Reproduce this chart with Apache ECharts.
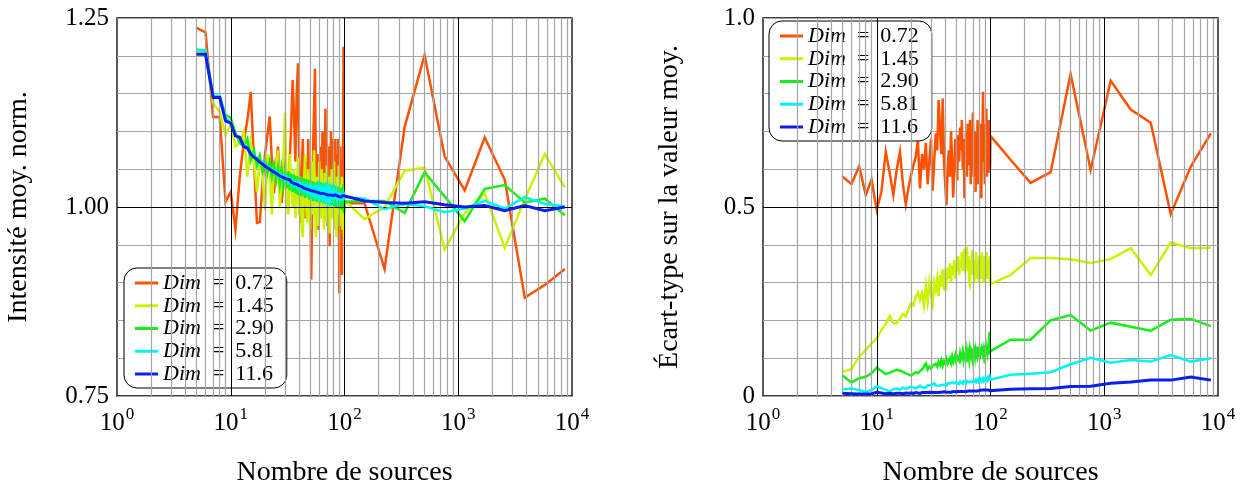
<!DOCTYPE html>
<html><head><meta charset="utf-8">
<script src="https://cdn.jsdelivr.net/npm/echarts@6/dist/echarts.min.js"></script>
<style>html,body{margin:0;padding:0;background:#fff}#c{width:1243px;height:491px}</style>
</head><body><div id="c"></div>
<script>
// ---------- DATA ----------
const nSources = [5,6,7,8,9,10,11,12,13,14,15,16,17,18,19,20,21,22,23,24,25,26,27,28,29,30,31,32,33,34,35,36,37,38,39,40,41,42,43,44,45,46,47,48,49,50,51,52,53,54,55,56,57,58,59,60,61,62,63,64,65,66,67,68,69,70,71,72,73,74,75,76,77,78,79,80,81,82,83,84,85,86,87,88,89,90,91,92,93,94,95,96,97,98,99,100,150,225,338,506,759,1139,1709,2563,3844,5767,8650];
const dimNames = ['0.72','1.45','2.90','5.81','11.6'];

// Left: normalised mean intensity
const intens072 = [1.237,1.231,1.119,1.119,1.007,1.020,0.970,1.040,1.085,1.115,
1.152,1.060,0.979,0.980,1.030,1.070,1.095,1.120,1.060,1.018,
1.050,1.080,1.040,1.005,1.030,1.070,1.030,0.995,1.060,1.110,
1.168,1.120,1.060,1.150,1.190,1.050,0.979,1.040,1.090,1.010,
0.985,1.060,1.020,1.090,0.990,1.030,0.904,1.000,1.080,1.130,
1.183,1.050,0.990,1.070,0.970,1.050,0.985,1.080,1.020,1.100,
1.040,0.990,1.060,1.130,1.010,1.070,0.975,1.040,1.080,0.948,
1.020,1.100,1.050,1.090,0.990,1.040,1.080,1.000,1.090,0.970,
1.050,1.070,1.010,1.090,1.040,0.886,1.020,1.080,0.960,1.050,
0.910,1.060,1.020,1.212,1.005,1.005,
1.005,0.918,1.106,1.201,1.067,1.022,1.092,1.036,0.880,0.897,0.918];
const intens145 = [1.205,1.205,1.137,1.126,1.095,1.110,1.080,1.085,1.100,1.040,
1.085,1.060,1.020,1.060,1.045,0.995,1.070,1.050,0.990,1.060,
1.040,1.075,1.000,1.035,1.060,1.125,1.020,0.990,1.070,1.030,
1.000,1.050,0.985,1.020,1.065,0.990,1.040,0.975,0.960,1.030,
1.070,1.000,0.980,1.050,1.010,0.970,1.060,1.020,0.990,1.075,
1.000,0.960,1.040,1.010,0.975,1.060,1.020,0.985,1.050,0.995,
1.030,0.970,1.045,1.000,0.980,1.055,1.010,0.990,1.040,0.965,
1.030,1.000,1.050,0.985,1.020,0.995,1.060,0.980,1.030,1.005,
0.960,1.040,1.010,0.990,1.055,1.000,0.975,1.030,1.010,0.985,
1.040,0.970,1.020,0.995,0.960,1.009,
0.984,1.000,1.048,1.052,0.944,0.992,1.018,0.946,1.010,1.070,1.026];
const intens290 = [1.208,1.207,1.146,1.146,1.122,1.118,1.098,1.085,1.080,1.090,
1.062,1.075,1.055,1.068,1.048,1.062,1.045,1.060,1.040,1.056,
1.036,1.052,1.030,1.050,1.028,1.046,1.025,1.047,1.022,1.044,
1.020,1.043,1.018,1.041,1.016,1.040,1.014,1.039,1.015,1.038,
1.012,1.037,1.013,1.036,1.010,1.035,1.011,1.034,1.008,1.033,
1.010,1.032,1.007,1.034,1.009,1.031,1.006,1.033,1.008,1.030,
1.005,1.032,1.007,1.029,1.004,1.031,1.006,1.028,1.003,1.030,
1.005,1.027,1.002,1.029,1.004,1.026,1.001,1.028,1.003,1.025,
1.000,1.027,1.002,1.024,0.998,1.026,1.000,1.023,0.997,1.025,
0.999,1.022,0.995,1.030,0.992,1.007,
1.008,1.008,0.992,1.046,1.014,0.981,1.024,1.029,1.006,1.011,0.989];
const intens581 = [1.207,1.207,1.147,1.147,1.118,1.112,1.095,1.093,1.083,1.079,
1.073,1.066,1.065,1.058,1.060,1.053,1.055,1.049,1.051,1.045,
1.048,1.041,1.044,1.038,1.042,1.036,1.040,1.033,1.037,1.030,
1.035,1.028,1.033,1.027,1.032,1.025,1.030,1.024,1.029,1.022,
1.028,1.021,1.027,1.020,1.026,1.019,1.025,1.018,1.024,1.017,
1.024,1.016,1.023,1.017,1.024,1.015,1.023,1.016,1.022,1.014,
1.022,1.015,1.021,1.013,1.022,1.014,1.020,1.013,1.021,1.012,
1.020,1.013,1.019,1.011,1.020,1.012,1.019,1.011,1.020,1.010,
1.018,1.012,1.019,1.009,1.018,1.010,1.018,1.008,1.019,1.010,
1.017,1.008,1.018,1.009,1.016,1.013,
1.011,0.997,1.004,1.001,0.993,0.998,1.008,0.998,1.013,1.004,1.001];
const intens116 = [1.202,1.202,1.145,1.145,1.114,1.111,1.094,1.092,1.080,1.078,
1.070,1.066,1.063,1.059,1.057,1.054,1.052,1.050,1.048,1.046,
1.045,1.043,1.041,1.040,1.039,1.038,1.037,1.035,1.036,1.033,
1.032,1.031,1.030,1.030,1.029,1.028,1.029,1.027,1.026,1.025,
1.025,1.024,1.026,1.023,1.023,1.022,1.022,1.023,1.021,1.021,
1.020,1.020,1.020,1.021,1.019,1.019,1.019,1.018,1.020,1.018,
1.018,1.017,1.017,1.017,1.019,1.017,1.016,1.016,1.016,1.016,
1.016,1.018,1.015,1.015,1.015,1.015,1.015,1.015,1.016,1.014,
1.014,1.014,1.014,1.014,1.016,1.014,1.013,1.013,1.013,1.013,
1.013,1.013,1.015,1.013,1.013,1.013,
1.008,1.006,1.005,1.007,1.003,1.000,1.002,0.995,1.002,0.995,1.000];

// Right: standard deviation over the mean value
const std072 = [0.580,0.561,0.608,0.532,0.572,0.492,0.541,0.646,0.590,0.532,
0.600,0.646,0.560,0.507,0.550,0.584,0.610,0.633,0.677,0.549,
0.640,0.600,0.670,0.560,0.620,0.680,0.543,0.620,0.695,0.650,
0.783,0.700,0.640,0.787,0.620,0.560,0.505,0.600,0.650,0.580,
0.700,0.620,0.525,0.600,0.680,0.640,0.570,0.690,0.620,0.710,
0.650,0.730,0.600,0.680,0.523,0.640,0.700,0.580,0.720,0.610,
0.660,0.730,0.560,0.690,0.620,0.750,0.580,0.660,0.700,0.540,
0.680,0.620,0.730,0.560,0.670,0.600,0.720,0.640,0.523,0.680,
0.700,0.805,0.620,0.690,0.560,0.720,0.600,0.760,0.580,0.700,
0.640,0.590,0.730,0.650,0.600,0.688,
0.625,0.564,0.592,0.852,0.598,0.834,0.758,0.723,0.481,0.607,0.695];
const std145 = [0.064,0.071,0.104,0.122,0.139,0.153,0.175,0.190,0.212,0.192,
0.193,0.205,0.217,0.210,0.230,0.245,0.240,0.262,0.274,0.255,
0.272,0.240,0.290,0.250,0.300,0.270,0.245,0.300,0.280,0.310,
0.265,0.320,0.290,0.335,0.280,0.320,0.300,0.340,0.310,0.351,
0.300,0.345,0.320,0.360,0.310,0.350,0.330,0.370,0.320,0.360,
0.340,0.380,0.330,0.365,0.350,0.390,0.340,0.395,0.330,0.370,
0.300,0.294,0.360,0.340,0.385,0.320,0.360,0.300,0.350,0.330,
0.380,0.310,0.360,0.340,0.300,0.370,0.330,0.350,0.310,0.380,
0.320,0.360,0.300,0.340,0.370,0.320,0.350,0.310,0.380,0.330,
0.360,0.310,0.350,0.330,0.370,0.296,
0.320,0.365,0.365,0.362,0.352,0.362,0.391,0.320,0.406,0.391,0.392];
const std290 = [0.054,0.036,0.047,0.051,0.060,0.075,0.066,0.058,0.062,0.066,
0.069,0.067,0.064,0.060,0.057,0.054,0.058,0.063,0.060,0.066,
0.070,0.073,0.086,0.070,0.078,0.072,0.080,0.076,0.085,0.078,
0.090,0.082,0.095,0.080,0.092,0.085,0.098,0.086,0.094,0.100,
0.088,0.104,0.090,0.098,0.108,0.092,0.104,0.108,0.094,0.112,
0.098,0.106,0.118,0.096,0.110,0.113,0.100,0.120,0.104,0.114,
0.098,0.122,0.108,0.116,0.102,0.126,0.110,0.118,0.104,0.124,
0.126,0.108,0.130,0.112,0.120,0.106,0.128,0.114,0.122,0.108,
0.132,0.116,0.124,0.110,0.086,0.120,0.134,0.112,0.126,0.116,
0.130,0.110,0.124,0.170,0.118,0.122,
0.149,0.149,0.200,0.214,0.173,0.194,0.183,0.173,0.202,0.204,0.185];
const std581 = [0.018,0.020,0.016,0.011,0.016,0.026,0.021,0.016,0.012,0.018,
0.020,0.017,0.022,0.019,0.021,0.025,0.022,0.020,0.024,0.027,
0.023,0.026,0.022,0.028,0.025,0.029,0.026,0.034,0.028,0.030,
0.027,0.032,0.029,0.033,0.030,0.032,0.028,0.034,0.030,0.033,
0.029,0.036,0.031,0.034,0.030,0.036,0.033,0.037,0.032,0.038,
0.034,0.036,0.033,0.039,0.035,0.037,0.034,0.040,0.035,0.038,
0.036,0.041,0.035,0.039,0.037,0.042,0.036,0.040,0.038,0.043,
0.037,0.041,0.039,0.044,0.038,0.042,0.040,0.045,0.039,0.043,
0.041,0.046,0.040,0.044,0.042,0.047,0.041,0.045,0.043,0.048,
0.042,0.046,0.044,0.052,0.043,0.045,
0.056,0.059,0.063,0.084,0.101,0.088,0.095,0.091,0.108,0.091,0.100];
const std116 = [0.007,0.006,0.005,0.005,0.006,0.010,0.008,0.006,0.007,0.006,
0.007,0.007,0.006,0.008,0.007,0.008,0.007,0.009,0.008,0.007,
0.009,0.008,0.009,0.008,0.010,0.009,0.009,0.010,0.009,0.010,
0.009,0.011,0.010,0.009,0.011,0.010,0.010,0.011,0.010,0.012,
0.010,0.011,0.012,0.010,0.011,0.012,0.011,0.012,0.011,0.013,
0.012,0.011,0.013,0.012,0.012,0.013,0.012,0.014,0.012,0.013,
0.012,0.014,0.013,0.012,0.014,0.013,0.013,0.014,0.013,0.015,
0.013,0.014,0.013,0.015,0.014,0.013,0.015,0.014,0.013,0.015,
0.014,0.016,0.014,0.013,0.015,0.014,0.016,0.014,0.015,0.013,
0.016,0.014,0.015,0.017,0.014,0.013,
0.018,0.019,0.020,0.025,0.026,0.034,0.037,0.042,0.042,0.050,0.042];

const leftSeries = [intens072, intens145, intens290, intens581, intens116];
const rightSeries = [std072, std145, std290, std581, std116];

// ---------- STYLE ----------
const FONT = 'Liberation Serif';
const colors = ['#ff5200', '#ccf200', '#14f014', '#00f4f4', '#0a1ef0'];
const GRAY = '#a4a4a4';

const minorX = [];
[1, 10, 100, 1000].forEach(d => { for (let k = 2; k <= 9; k++) minorX.push(k * d); });
const majorX = [10, 100, 1000];

function pairs(vals) { return nSources.map((x, i) => [x, vals[i]]); }

const grids = [
  { left: 117, top: 18, width: 455, height: 378, outerBoundsMode: 'none', containLabel: false, show: true, borderColor: '#000', borderWidth: 1.3, backgroundColor: 'transparent' },
  { left: 763, top: 18, width: 455, height: 378, outerBoundsMode: 'none', containLabel: false, show: true, borderColor: '#000', borderWidth: 1.3, backgroundColor: 'transparent' }
];

function xAxisCfg(gi) {
  return {
    type: 'log', logBase: 10, min: 1, max: 10000, gridIndex: gi,
    axisLine: { show: false }, axisTick: { show: false }, splitLine: { show: false },
    name: 'Nombre de sources', nameLocation: 'middle', nameGap: 63,
    nameTextStyle: { fontFamily: FONT, fontSize: 28, color: '#000' },
    axisLabel: {
      margin: 10, color: '#000',
      formatter: v => '{a|10}{b|' + Math.round(Math.log10(v)) + '}',
      rich: {
        a: { fontFamily: FONT, fontSize: 25, color: '#000', verticalAlign: 'bottom', lineHeight: 30 },
        b: { fontFamily: FONT, fontSize: 17, color: '#000', verticalAlign: 'top', lineHeight: 30, padding: [0, 0, 0, 1] }
      }
    }
  };
}

const yAxes = [
  {
    type: 'value', gridIndex: 0, min: 0.75, max: 1.25, interval: 0.05,
    axisLine: { show: false }, axisTick: { show: false },
    splitLine: { show: true, lineStyle: { color: GRAY, width: 1.2 } },
    name: 'Intensité moy. norm.', nameLocation: 'middle', nameGap: 84, nameRotate: 90,
    nameTextStyle: { fontFamily: FONT, fontSize: 28, color: '#000' },
    axisLabel: {
      margin: 8, fontFamily: FONT, fontSize: 25, color: '#000',
      formatter: v => ([0.75, 1.0, 1.25].some(m => Math.abs(m - v) < 1e-6) ? v.toFixed(2) : '')
    }
  },
  {
    type: 'value', gridIndex: 1, min: 0, max: 1, interval: 0.1,
    axisLine: { show: false }, axisTick: { show: false },
    splitLine: { show: true, lineStyle: { color: GRAY, width: 1.2 } },
    name: 'Écart-type sur la valeur moy.', nameLocation: 'middle', nameGap: 79, nameRotate: 90,
    nameTextStyle: { fontFamily: FONT, fontSize: 28, color: '#000' },
    axisLabel: {
      margin: 8, fontFamily: FONT, fontSize: 25, color: '#000',
      formatter: v => (Math.abs(v) < 1e-6 ? '0' : Math.abs(v - 0.5) < 1e-6 ? '0.5' : Math.abs(v - 1) < 1e-6 ? '1.0' : '')
    }
  }
];

function gridHelper(gi, yMajor) {
  const ml = [];
  minorX.forEach(x => ml.push({ xAxis: x, lineStyle: { color: GRAY, width: 1.2, type: 'solid' } }));
  majorX.forEach(x => ml.push({ xAxis: x, lineStyle: { color: '#000', width: 1, type: 'solid' } }));
  ml.push({ yAxis: yMajor, lineStyle: { color: '#000', width: 1, type: 'solid' } });
  return {
    type: 'line', name: '_grid' + gi, xAxisIndex: gi, yAxisIndex: gi, z: 1,
    data: [[1, yMajor]], symbol: 'none', lineStyle: { opacity: 0 }, silent: true,
    markLine: { silent: true, symbol: ['none', 'none'], label: { show: false }, animation: false, data: ml }
  };
}

const series = [gridHelper(0, 1.0), gridHelper(1, 0.5)];
[leftSeries, rightSeries].forEach((group, gi) => {
  group.forEach((vals, k) => {
    series.push({
      type: 'line', name: dimNames[k], xAxisIndex: gi, yAxisIndex: gi, z: 2 + k,
      data: pairs(vals), symbol: 'none', showSymbol: false,
      lineStyle: { color: colors[k], width: k === 4 ? 3 : 2.5, join: 'miter' },
      itemStyle: { color: colors[k] }
    });
  });
});

function legendCfg(left, top) {
  return {
    data: dimNames, left: left, top: top, orient: 'vertical',
    icon: 'rect', itemWidth: 23, itemHeight: 3, itemGap: 0.75,
    padding: [4, 13, 3, 11], borderColor: '#000', borderWidth: 1, borderRadius: 13,
    backgroundColor: '#fff', selectedMode: false,
    formatter: name => '{i|Dim}\u2002=\u2002' + name,
    textStyle: {
      fontFamily: FONT, fontSize: 22, color: '#000', lineHeight: 20,
      rich: { i: { fontFamily: FONT, fontSize: 22, fontStyle: 'italic', color: '#000', lineHeight: 20 } }
    }
  };
}

const chart = echarts.init(document.getElementById('c'), null, { renderer: 'canvas' });
chart.setOption({
  animation: false,
  backgroundColor: '#fff',
  grid: grids,
  xAxis: [xAxisCfg(0), xAxisCfg(1)],
  yAxis: yAxes,
  legend: [legendCfg(124, 268), legendCfg(769, 21)],
  series: series
});
</script>
</body></html>
